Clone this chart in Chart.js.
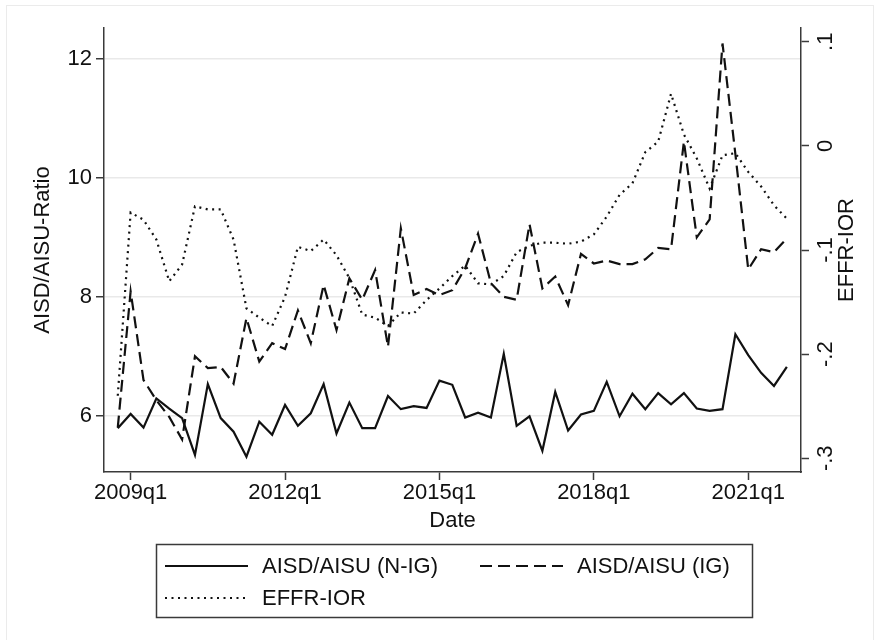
<!DOCTYPE html>
<html>
<head>
<meta charset="utf-8">
<script src="https://cdn.jsdelivr.net/npm/chart.js@4.4.0/dist/chart.umd.min.js"></script>
<style>
  html, body { margin: 0; padding: 0; background: #fff; }
  #wrap { width: 879px; height: 640px; }
</style>
</head>
<body>
<div id="wrap"><canvas id="myChart" width="879" height="640"></canvas></div>
<script>
// quarters 2008q4 .. 2021q4
const QUARTERS = [];
for (let y = 2008; y <= 2021; y++) {
    for (let q = 1; q <= 4; q++) {
        if (y === 2008 && q < 4) continue;
        QUARTERS.push(y + 'q' + q);
    }
}

const X_TICKS = ['2009q1', '2012q1', '2015q1', '2018q1', '2021q1'];
const LEFT_TICKS = [6, 8, 10, 12];
const RIGHT_TICKS = [0.1, 0, -0.1, -0.2, -0.3];
const RIGHT_TICK_LABELS = ['.1', '0', '-.1', '-.2', '-.3'];

const NIG = [5.79, 6.03, 5.80, 6.29, 6.12, 5.96, 5.34, 6.53, 5.96, 5.73,
    5.31, 5.90, 5.68, 6.18, 5.83, 6.04, 6.53, 5.70, 6.22, 5.79,
    5.79, 6.33, 6.11, 6.16, 6.13, 6.59, 6.52, 5.97, 6.05, 5.97,
    7.04, 5.83, 5.99, 5.41, 6.40, 5.75, 6.02, 6.08, 6.57, 5.99,
    6.37, 6.11, 6.38, 6.19, 6.38, 6.12, 6.08, 6.11, 7.37, 7.02,
    6.72, 6.50, 6.82];

const IG = [5.80, 8.09, 6.60, 6.26, 5.98, 5.60, 7.00, 6.80, 6.82, 6.54,
    7.64, 6.91, 7.22, 7.12, 7.77, 7.22, 8.20, 7.44, 8.31, 7.95,
    8.45, 7.16, 9.15, 8.03, 8.13, 8.03, 8.11, 8.48, 9.06, 8.23,
    8.00, 7.95, 9.22, 8.14, 8.34, 7.86, 8.72, 8.56, 8.61, 8.55,
    8.55, 8.63, 8.82, 8.80, 10.61, 9.00, 9.30, 12.26, 10.40, 8.46,
    8.80, 8.75, 8.98];

const EFFR_IOR = [-0.240, -0.064, -0.071, -0.090, -0.130, -0.114, -0.058, -0.061, -0.061, -0.090,
    -0.156, -0.165, -0.173, -0.145, -0.097, -0.101, -0.090, -0.105, -0.127, -0.162,
    -0.165, -0.173, -0.160, -0.161, -0.148, -0.137, -0.125, -0.115, -0.132, -0.133,
    -0.125, -0.102, -0.096, -0.093, -0.093, -0.094, -0.092, -0.085, -0.068, -0.047,
    -0.036, -0.006, 0.004, 0.050, 0.011, -0.012, -0.041, -0.009, -0.007, -0.025,
    -0.039, -0.057, -0.070];

const FONT = '"Liberation Sans", Arial, Helvetica, sans-serif';
const FS = 22;
const INK = '#111';
const AXIS = '#3a3a3a';

function pts(arr) {
    return arr.map((v, i) => ({ x: i, y: v }));
}

function noPad(s) {
    s.paddingTop = 0; s.paddingBottom = 0; s.paddingLeft = 0; s.paddingRight = 0;
}

const decor = {
    id: 'decor',
    beforeDraw(chart) {
        const c = chart.ctx;
        c.save();
        c.fillStyle = '#fff';
        c.fillRect(0, 0, chart.width, chart.height);
        c.strokeStyle = '#ebebeb';
        c.lineWidth = 1;
        c.strokeRect(6.5, 5.5, 867, 660);
        c.restore();
    },
    afterDraw(chart) {
        const c = chart.ctx;
        const y2 = chart.scales.y2;
        const area = chart.chartArea;
        c.save();
        c.fillStyle = INK;
        c.font = FS + 'px ' + FONT;
        c.textAlign = 'center';
        c.textBaseline = 'middle';
        RIGHT_TICKS.forEach((v, k) => {
            c.save();
            c.translate(826, y2.getPixelForValue(v));
            c.rotate(-Math.PI / 2);
            c.fillText(RIGHT_TICK_LABELS[k], 0, 0);
            c.restore();
        });
        c.save();
        c.translate(847, (area.top + area.bottom) / 2);
        c.rotate(-Math.PI / 2);
        c.fillText('EFFR-IOR', 0, 0);
        c.restore();

        // legend
        c.strokeStyle = AXIS;
        c.lineWidth = 1.5;
        c.strokeRect(156.5, 544.5, 596, 73);
        const slots = [[165, 566], [480, 566], [165, 598]];
        c.textAlign = 'left';
        chart.data.datasets.forEach((ds, k) => {
            const [x, y] = slots[k];
            c.save();
            c.strokeStyle = ds.borderColor;
            c.lineWidth = ds.borderWidth;
            c.setLineDash(ds.borderDash || []);
            c.beginPath();
            c.moveTo(x, y);
            c.lineTo(x + 83, y);
            c.stroke();
            c.restore();
            c.fillText(ds.label, x + 97, y + 1);
        });
        c.restore();
    }
};

const ctx = document.getElementById('myChart');

window.myChart = new Chart(ctx, {
    type: 'line',
    data: {
        datasets: [{
            label: 'AISD/AISU (N-IG)',
            data: pts(NIG),
            yAxisID: 'y',
            borderColor: INK,
            borderWidth: 2.2,
        }, {
            label: 'AISD/AISU (IG)',
            data: pts(IG),
            yAxisID: 'y',
            borderColor: INK,
            borderWidth: 2.2,
            borderDash: [12, 6],
        }, {
            label: 'EFFR-IOR',
            data: pts(EFFR_IOR),
            yAxisID: 'y2',
            borderColor: INK,
            borderWidth: 2.2,
            borderDash: [2, 4.5],
        }]
    },
    options: {
        responsive: false,
        animation: false,
        devicePixelRatio: 1,
        elements: { point: { radius: 0 }, line: { tension: 0 } },
        layout: { padding: { top: 28, bottom: 93, left: 0, right: 0 } },
        plugins: {
            legend: { display: false },
            tooltip: { enabled: false },
        },
        scales: {
            x: {
                type: 'linear',
                min: -1.07,
                max: 53.1,
                afterBuildTicks: s => { s.ticks = X_TICKS.map(t => ({ value: QUARTERS.indexOf(t) })); },
                afterFit: s => { s.height = 75; noPad(s); },
                border: { display: true, color: AXIS, width: 1.5 },
                grid: { drawOnChartArea: false, drawTicks: true, tickLength: 8, tickColor: AXIS, tickWidth: 1.5 },
                ticks: {
                    color: INK,
                    font: { family: FONT, size: FS },
                    padding: 0,
                    maxRotation: 0,
                    autoSkip: false,
                    callback: v => QUARTERS[v],
                },
                title: {
                    display: true,
                    text: 'Date',
                    color: INK,
                    font: { family: FONT, size: FS },
                    padding: { top: 0, bottom: 13 },
                },
            },
            y: {
                position: 'left',
                min: 5.053,
                max: 12.52,
                afterBuildTicks: s => { s.ticks = LEFT_TICKS.map(v => ({ value: v })); },
                afterFit: s => { s.width = 104; noPad(s); },
                border: { display: true, color: AXIS, width: 1.5 },
                grid: { color: '#e9e9e9', lineWidth: 1.5, tickLength: 8, tickColor: AXIS, tickWidth: 1.5 },
                ticks: {
                    color: INK,
                    font: { family: FONT, size: FS },
                    padding: 4,
                },
                title: {
                    display: true,
                    text: 'AISD/AISU-Ratio',
                    color: INK,
                    font: { family: FONT, size: FS },
                    padding: { top: 30, bottom: 0 },
                },
            },
            y2: {
                position: 'right',
                min: -0.3132,
                max: 0.1132,
                afterBuildTicks: s => { s.ticks = RIGHT_TICKS.map(v => ({ value: v })); },
                afterFit: s => { s.width = 78; noPad(s); },
                border: { display: true, color: AXIS, width: 1.5 },
                grid: { drawOnChartArea: false, tickLength: 8, color: AXIS, tickColor: AXIS, tickWidth: 1.5 },
                ticks: { display: false },
            }
        }
    },
    plugins: [decor]
});
</script>
</body>
</html>
